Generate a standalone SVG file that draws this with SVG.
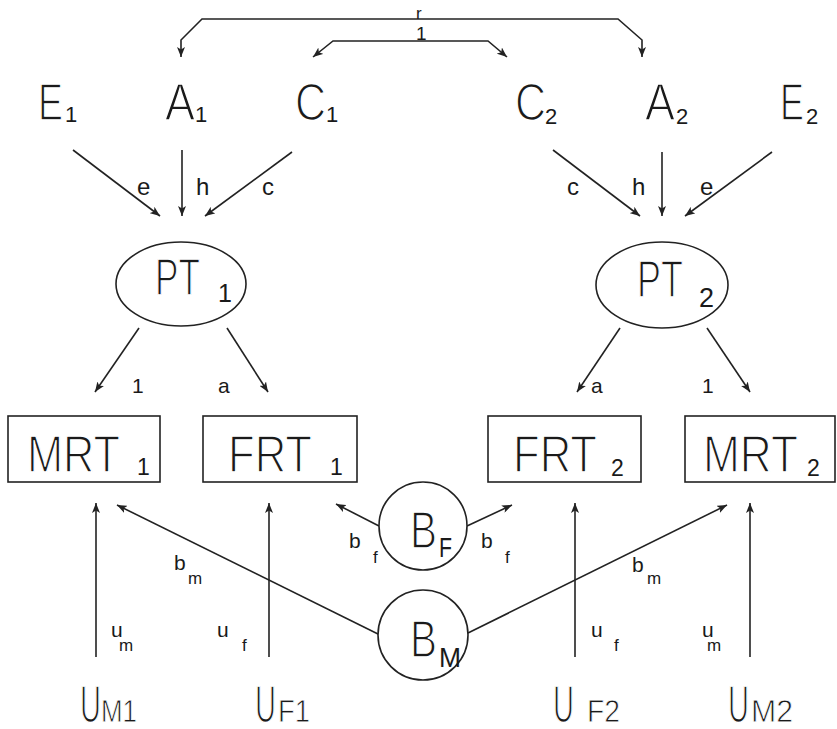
<svg xmlns="http://www.w3.org/2000/svg" width="837" height="729" viewBox="0 0 837 729">
<defs>
<marker id="ah" viewBox="0 0 10 8" refX="10" refY="4" markerWidth="10" markerHeight="8" markerUnits="userSpaceOnUse" orient="auto-start-reverse">
<path d="M0,0 L10,4 L0,8 L2.5,4 z" fill="#222"/>
</marker>
</defs>
<style>
text{font-family:"Liberation Sans",Arial,sans-serif;fill:#1a1a1a}
.big{font-size:52px;stroke:#fff;stroke-width:1.5px}
.sub{font-size:22px}
.lab{font-size:24px}
.sm{font-size:21px}
.sl{font-size:17px}
.bot{font-size:32px;stroke:#fff;stroke-width:0.8px}
.edge{fill:none;stroke:#222;stroke-width:1.6}
.arr{fill:none;stroke:#222;stroke-width:1.6;marker-end:url(#ah)}
.shape{fill:#fff;stroke:#222;stroke-width:1.6}
</style>
<rect width="837" height="729" fill="#fff"/>

<g id="connectors">
<path class="edge" d="M181,57 L181,40 L202,19 L618,19 L642,40 L642,57" marker-start="url(#ah)" marker-end="url(#ah)"/>
<path class="edge" d="M313,57 L333,41 L488,41 L507,57" marker-start="url(#ah)" marker-end="url(#ah)"/>
<text class="sl" x="416" y="19">r</text>
<text class="sl" x="416" y="40" style="font-size:19px">1</text>

<line class="arr" x1="73" y1="150" x2="160" y2="216"/>
<line class="arr" x1="182" y1="150" x2="182" y2="216"/>
<line class="arr" x1="292" y1="152" x2="205" y2="216"/>
<line class="arr" x1="553" y1="150" x2="640" y2="216"/>
<line class="arr" x1="662" y1="152" x2="662" y2="216"/>
<line class="arr" x1="772" y1="152" x2="685" y2="216"/>
<text class="lab" x="137" y="195">e</text>
<text class="lab" x="196" y="195">h</text>
<text class="lab" x="262" y="195">c</text>
<text class="lab" x="567" y="195">c</text>
<text class="lab" x="632" y="195">h</text>
<text class="lab" x="700" y="195">e</text>

<line class="arr" x1="139" y1="328" x2="95" y2="392"/>
<line class="arr" x1="227" y1="328" x2="268" y2="392"/>
<line class="arr" x1="620" y1="328" x2="577" y2="392"/>
<line class="arr" x1="707" y1="328" x2="750" y2="392"/>
<text class="sm" x="132" y="393">1</text>
<text class="sm" x="218" y="393">a</text>
<text class="sm" x="591" y="393">a</text>
<text class="sm" x="702" y="393">1</text>

<line class="arr" x1="96" y1="657" x2="96" y2="503"/>
<line class="arr" x1="269" y1="657" x2="269" y2="503"/>
<line class="arr" x1="575" y1="657" x2="575" y2="503"/>
<line class="arr" x1="750" y1="657" x2="750" y2="503"/>
<line class="arr" x1="380" y1="635" x2="117" y2="505"/>
<line class="arr" x1="468" y1="633" x2="727" y2="505"/>
<line class="arr" x1="379" y1="526" x2="336" y2="504"/>
<line class="arr" x1="467" y1="526" x2="512" y2="505"/>

<text class="sm" x="174" y="570">b</text><text class="sl" x="188" y="584">m</text>
<text class="sm" x="632" y="572">b</text><text class="sl" x="647" y="584">m</text>
<text class="sm" x="349" y="548">b</text><text class="sl" x="373" y="563">f</text>
<text class="sm" x="481" y="548">b</text><text class="sl" x="505" y="563">f</text>
<text class="sm" x="111" y="637">u</text><text class="sl" x="119" y="651">m</text>
<text class="sm" x="217" y="637">u</text><text class="sl" x="242" y="651">f</text>
<text class="sm" x="591" y="637">u</text><text class="sl" x="614" y="651">f</text>
<text class="sm" x="702" y="637">u</text><text class="sl" x="707" y="651">m</text>
</g>

<g id="E1"><text class="big" x="38" y="120" textLength="25" lengthAdjust="spacingAndGlyphs">E</text><text class="sub" x="65" y="122">1</text></g>
<g id="A1"><text class="big" x="165" y="120" textLength="30" lengthAdjust="spacingAndGlyphs">A</text><text class="sub" x="195" y="122">1</text></g>
<g id="C1"><text class="big" x="295" y="120" textLength="31" lengthAdjust="spacingAndGlyphs">C</text><text class="sub" x="326" y="122">1</text></g>
<g id="C2"><text class="big" x="515" y="120" textLength="31" lengthAdjust="spacingAndGlyphs">C</text><text class="sub" x="545" y="124">2</text></g>
<g id="A2"><text class="big" x="645" y="120" textLength="30" lengthAdjust="spacingAndGlyphs">A</text><text class="sub" x="676" y="124">2</text></g>
<g id="E2"><text class="big" x="780" y="120" textLength="24" lengthAdjust="spacingAndGlyphs">E</text><text class="sub" x="806" y="124">2</text></g>

<g id="PT1"><ellipse class="shape" cx="181" cy="284" rx="65" ry="42"/><text class="big" x="155" y="295" textLength="45" lengthAdjust="spacingAndGlyphs">PT</text><text class="sub" x="218" y="302" style="font-size:25px">1</text></g>
<g id="PT2"><ellipse class="shape" cx="662" cy="285" rx="66" ry="43"/><text class="big" x="637" y="297" textLength="46" lengthAdjust="spacingAndGlyphs">PT</text><text class="sub" x="699" y="307" style="font-size:27px">2</text></g>

<g id="MRT1"><rect class="shape" x="8" y="416" width="152" height="66"/><text class="big" x="27" y="472" textLength="93" lengthAdjust="spacingAndGlyphs">MRT</text><text class="sub" x="137" y="475" style="font-size:23px">1</text></g>
<g id="FRT1"><rect class="shape" x="203" y="416" width="154" height="66"/><text class="big" x="228" y="472" textLength="84" lengthAdjust="spacingAndGlyphs">FRT</text><text class="sub" x="330" y="475" style="font-size:23px">1</text></g>
<g id="FRT2"><rect class="shape" x="488" y="416" width="153" height="66"/><text class="big" x="513" y="472" textLength="84" lengthAdjust="spacingAndGlyphs">FRT</text><text class="sub" x="611" y="476" style="font-size:23px">2</text></g>
<g id="MRT2"><rect class="shape" x="685" y="416" width="150" height="66"/><text class="big" x="703" y="472" textLength="95" lengthAdjust="spacingAndGlyphs">MRT</text><text class="sub" x="807" y="476" style="font-size:23px">2</text></g>

<g id="BF"><circle class="shape" cx="423" cy="526" r="44"/><text class="big" x="410" y="548" textLength="27" lengthAdjust="spacingAndGlyphs">B</text><text class="sub" x="439" y="557" style="font-size:27px" textLength="13" lengthAdjust="spacingAndGlyphs">F</text></g>
<g id="BM"><circle class="shape" cx="423" cy="635" r="45"/><text class="big" x="410" y="657" textLength="27" lengthAdjust="spacingAndGlyphs">B</text><text class="sub" x="439" y="667" style="font-size:27px" textLength="22" lengthAdjust="spacingAndGlyphs">M</text></g>

<g id="UM1"><text class="big" x="80" y="722" textLength="21" lengthAdjust="spacingAndGlyphs">U</text><text class="bot" x="101" y="722" textLength="36" lengthAdjust="spacingAndGlyphs">M1</text></g>
<g id="UF1"><text class="big" x="255" y="722" textLength="21" lengthAdjust="spacingAndGlyphs">U</text><text class="bot" x="278" y="722" textLength="32" lengthAdjust="spacingAndGlyphs">F1</text></g>
<g id="UF2"><text class="big" x="553" y="722" textLength="21" lengthAdjust="spacingAndGlyphs">U</text><text class="bot" x="587" y="722" textLength="33" lengthAdjust="spacingAndGlyphs">F2</text></g>
<g id="UM2"><text class="big" x="728" y="722" textLength="21" lengthAdjust="spacingAndGlyphs">U</text><text class="bot" x="751" y="722" textLength="42" lengthAdjust="spacingAndGlyphs">M2</text></g>
</svg>
